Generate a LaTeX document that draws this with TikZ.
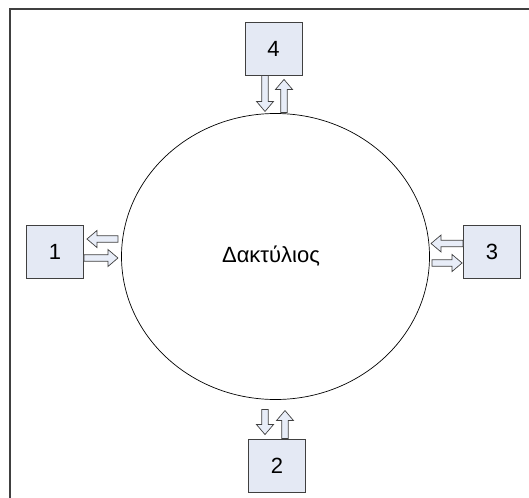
\documentclass[tikz,border=0pt]{standalone}
\usepackage{fontspec}
\setmainfont{Liberation Sans}
\usetikzlibrary{calc,shapes.geometric}

\definecolor{boxfill}{HTML}{E4E9F4}
\definecolor{arrfill}{HTML}{E8EDF8}
\definecolor{edge}{HTML}{404040}

\tikzset{
  station/.style={draw=edge, fill=boxfill, line width=0.9pt,
    minimum width=57pt, minimum height=53pt, inner sep=0pt,
    font=\fontsize{22}{24}\selectfont},
  ring/.style={draw=black, line width=0.7pt, ellipse, inner sep=0pt,
    minimum width=308pt, minimum height=286pt},
  ringlabel/.style={font=\fontsize{22}{24}\selectfont, inner sep=0pt},
  blockarr/.style={draw=edge, fill=arrfill, line width=0.7pt, line join=miter},
  % hollow block arrow along +x, length #1, tail at the origin
  pics/barrow/.style={code={
    \draw[blockarr] (0,-3.2) -- ({#1-10},-3.2) -- ({#1-10},-8.5) -- (#1,0)
      -- ({#1-10},8.5) -- ({#1-10},3.2) -- (0,3.2) -- cycle;}}
}

\begin{document}
\begin{tikzpicture}[x=1pt,y=-1pt]
  \useasboundingbox (0,0) rectangle (529,497);
  \fill[white] (0,0) rectangle (529,497);
  % outer frame
  \draw[edge, line width=1.3pt] (10,540) -- (10,9) -- (560,9);

  \node[ring] (ring) at (275.5,256.5) {};
  \node[ringlabel] (label) at ($(ring.center)+(-4.5,0)$) {Δακτύλιος};

  \node[station] (n4) at (273.5,48.5) {4};
  \node[station] (n1) at (55,252) {1};
  \node[station] (n3) at (492,252) {3};
  \node[station] (n2) at (277,465.5) {2};

  % station 4
  \pic[rotate=-90] at ($(n4.south)+(-8.5,0)$) {barrow=36};
  \pic[rotate=90] at ($(n4.south)+(10.5,37)$) {barrow=33};
  % station 1
  \pic[rotate=180] at ($(n1.east)+(34,-13)$) {barrow=31};
  \pic at ($(n1.east)+(0,6)$) {barrow=34};
  % station 3
  \pic[rotate=180] at ($(n3.west)+(0,-8.5)$) {barrow=32};
  \pic at ($(n3.west)+(-31,11)$) {barrow=30};
  % station 2
  \pic[rotate=-90] at ($(n2.north)+(-12,-29)$) {barrow=25};
  \pic[rotate=90] at ($(n2.north)+(8,0)$) {barrow=28};
\end{tikzpicture}
\end{document}
